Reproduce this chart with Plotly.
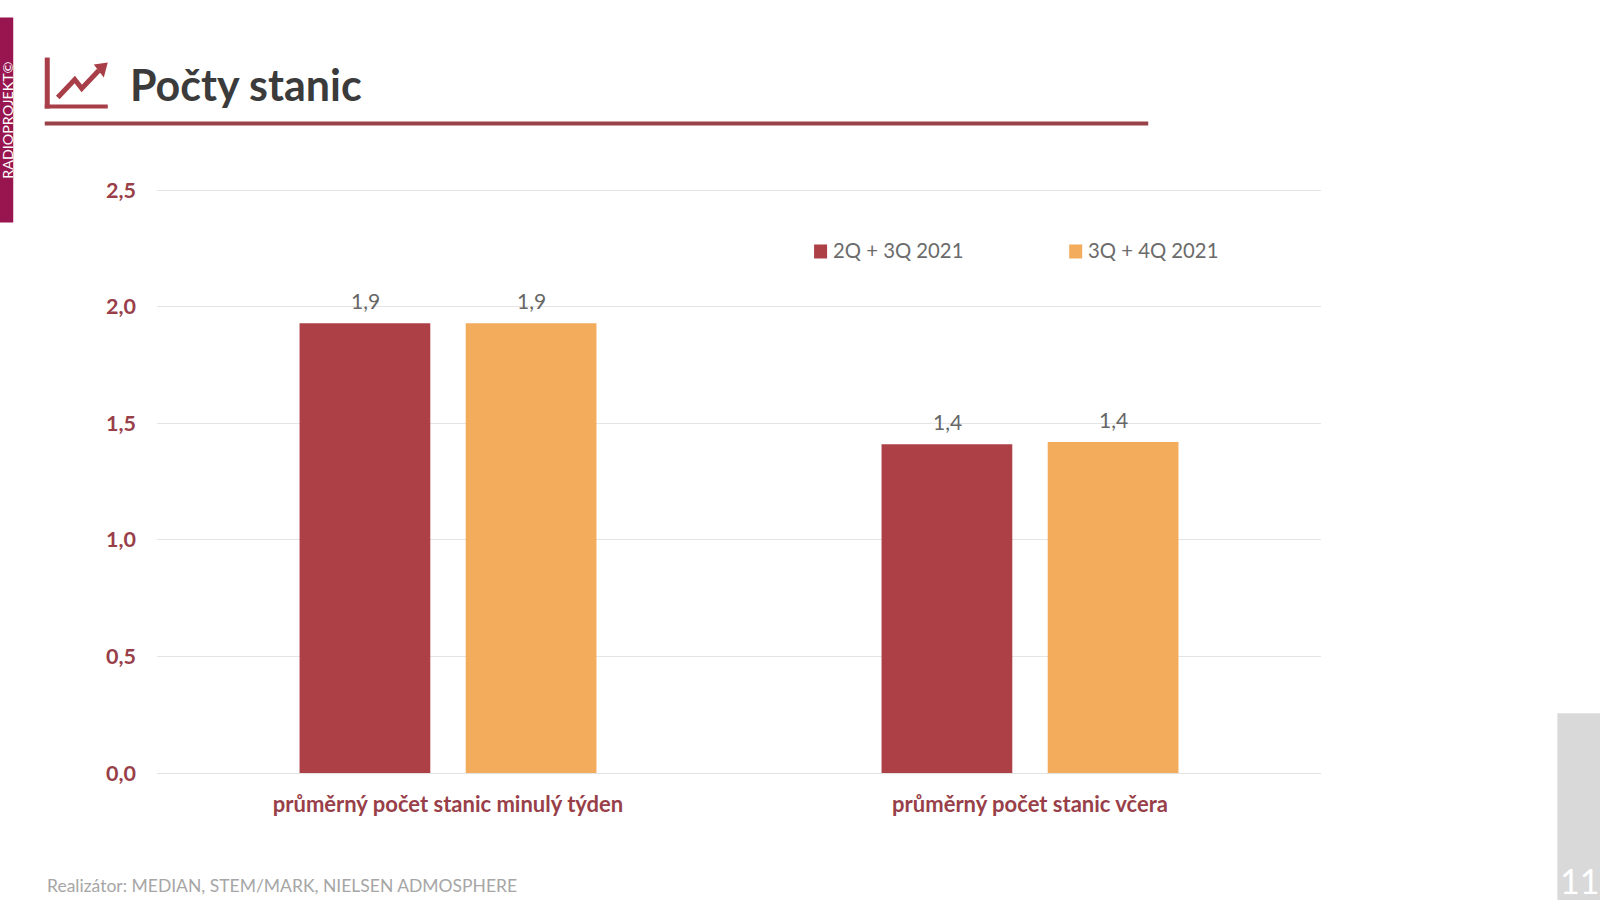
"""Počty stanic slide: grouped bars with the slide furniture around them."""
import plotly.graph_objects as go

W, H = 1600, 900
L, R, T, B = 157.2, 1320.7, 187.5, 772.7

RED = "#AD3F47"
ORANGE = "#F3AB5C"
AXIS_RED = "#983F49"

categories = ["průměrný počet stanic minulý týden", "průměrný počet stanic včera"]
series_names = ["2Q + 3Q 2021", "3Q + 4Q 2021"]
values_a = [1.93, 1.41]
values_b = [1.93, 1.42]
y_ticks = [0, 0.5, 1.0, 1.5, 2.0, 2.5]


def px(x):
    return (x - L) / (R - L)


def py(y):
    return (B - y) / (B - T)


def rect(x0, y0, x1, y1, color):
    return dict(type="rect", xref="paper", yref="paper", x0=px(x0), x1=px(x1), y0=py(y0), y1=py(y1),
                fillcolor=color, line_width=0, layer="above")


def path(points, color, width=0, fill=None):
    d = "M" + " L".join(f"{px(x):.5f},{py(y):.5f}" for x, y in points)
    if fill:
        d += " Z"
    return dict(type="path", xref="paper", yref="paper", path=d, fillcolor=fill,
                line=dict(color=color, width=width))


def label(x, y, text, size, color, xanchor="left", yanchor="middle", bold=False, angle=0):
    return dict(xref="paper", yref="paper", x=px(x), y=py(y), text=f"<b>{text}</b>" if bold else text,
                showarrow=False, xanchor=xanchor, yanchor=yanchor, textangle=angle,
                font=dict(family="Lato", size=size, color=color))


fig = go.Figure()
for name, vals, color in [(series_names[0], values_a, RED), (series_names[1], values_b, ORANGE)]:
    fig.add_trace(go.Bar(x=categories, y=vals, name=name, marker=dict(color=color, line_width=0)))

shapes = [
    rect(0, 17, 13.5, 222, "#98154F"),          # side tab
    rect(1557, 713, 1600, 900, "#D9D9D9"),      # page number tile
    rect(45, 121, 1148, 125, "#9A4249"),        # title rule
    rect(45, 57, 50, 108, "#A83F48"),           # icon axes
    rect(45, 104, 108, 108, "#A83F48"),
    path([(58, 97), (75, 79), (82, 88), (99, 70)], "#A83F48", width=5),
    path([(94, 64), (108, 62), (104, 77)], "#A83F48", fill="#A83F48"),
    rect(814, 244, 827, 258, RED),              # legend swatches
    rect(1069, 244, 1082, 258, ORANGE),
]

annotations = [
    label(128, 84, "Počty stanic", 43, "#3B3B3B", bold=True),
    label(7, 119.5, "RADIOPROJEKT©", 14.3, "#FFFFFF", xanchor="center", angle=-90),
    label(45.5, 885, "Realizátor: MEDIAN, STEM/MARK, NIELSEN ADMOSPHERE", 17.5, "#A6A6A6"),
    label(1579, 903, "11", 34, "#FFFFFF", xanchor="center", yanchor="bottom"),
    label(831, 250, series_names[0], 20.3, "#6B6B6B"),
    label(1086, 250, series_names[1], 20.3, "#6B6B6B"),
]

# value labels sit higher above the bars than textposition="outside" allows
for vals, xshift in [(values_a, -83), (values_b, 83)]:
    for cat, v in zip(categories, vals):
        annotations.append(dict(
            x=cat, y=v, xref="x", yref="y", text=f"{v:.1f}".replace(".", ","), showarrow=False,
            xshift=xshift, yshift=8, yanchor="bottom",
            font=dict(family="Lato", size=21, color="#666666"),
        ))

fig.update_layout(
    width=W, height=H, margin=dict(l=L, r=W - R, t=T, b=H - B),
    paper_bgcolor="white", plot_bgcolor="white", showlegend=False,
    barmode="group", bargap=0.429, bargroupgap=0.213,
    separators=",.", shapes=shapes, annotations=annotations,
)
fig.update_xaxes(
    showgrid=False, showline=True, linecolor="#E2E2E2", linewidth=1, ticks="", ticklabelstandoff=12,
    tickfont=dict(family="Lato", size=22, color=AXIS_RED, weight="bold"),
)
fig.update_yaxes(
    range=[0, 2.51], tickvals=y_ticks, tickformat=".1f", showgrid=True, gridcolor="#E4E4E4", gridwidth=1,
    zeroline=False, ticks="", ticklabelstandoff=20,
    tickfont=dict(family="Lato", size=21.5, color=AXIS_RED, weight="bold"),
)

fig.write_html("out.html", config={"displayModeBar": False}, post_script="document.body.style.margin='0';")
